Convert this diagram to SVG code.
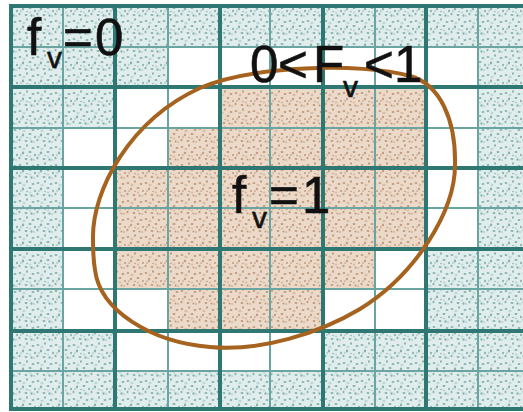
<svg xmlns="http://www.w3.org/2000/svg" width="523" height="412" viewBox="0 0 523 412">
<style>
.b{fill:url(#pb)}
.t{fill:url(#pt)}
.thick{stroke:#2f7773;stroke-width:4;fill:none}
.thin{stroke:#6aa5a1;stroke-width:2;fill:none}
.lbl{font-family:"Liberation Sans",Arial,sans-serif;fill:#111;stroke:#111;stroke-width:0.6}
.big{font-size:51px}
.sub{font-size:30px}
</style>
<defs>
<pattern id="pb" width="18" height="18" patternUnits="userSpaceOnUse">
<rect width="18" height="18" fill="#e1edec"/>
<g fill="#86b4b0">
<ellipse cx="2" cy="3" rx="1.4" ry="1"/>
<ellipse cx="9" cy="1.5" rx="1" ry="1.3"/>
<ellipse cx="15" cy="4" rx="1.5" ry="1"/>
<ellipse cx="5" cy="9" rx="1.2" ry="1.4"/>
<ellipse cx="12" cy="8" rx="1.6" ry="1"/>
<ellipse cx="17" cy="11" rx="1" ry="1.2"/>
<ellipse cx="1.5" cy="14" rx="1" ry="1.3"/>
<ellipse cx="8" cy="15" rx="1.5" ry="1.1"/>
<ellipse cx="13.5" cy="15.5" rx="1.1" ry="1.2"/>
<ellipse cx="9" cy="11.5" rx="0.8" ry="0.8"/>
</g>
<g fill="#bcd7d5">
<ellipse cx="6" cy="5" rx="1.6" ry="1.2"/>
<ellipse cx="16" cy="16" rx="1.4" ry="1.1"/>
<ellipse cx="3" cy="11" rx="1.2" ry="1.2"/>
<ellipse cx="12" cy="12.5" rx="1.3" ry="1"/>
</g>
</pattern>
<pattern id="pt" width="18" height="18" patternUnits="userSpaceOnUse">
<rect width="18" height="18" fill="#ebd9c9"/>
<g fill="#c39a7a">
<ellipse cx="2" cy="3" rx="1.3" ry="1"/>
<ellipse cx="9" cy="1.5" rx="1" ry="1.2"/>
<ellipse cx="15" cy="4" rx="1.4" ry="1"/>
<ellipse cx="5" cy="9" rx="1.1" ry="1.3"/>
<ellipse cx="12" cy="8" rx="1.5" ry="1"/>
<ellipse cx="17" cy="11" rx="1" ry="1.1"/>
<ellipse cx="1.5" cy="14" rx="1" ry="1.2"/>
<ellipse cx="8" cy="15" rx="1.4" ry="1"/>
<ellipse cx="13.5" cy="15.5" rx="1" ry="1.1"/>
<ellipse cx="9" cy="11.5" rx="0.8" ry="0.8"/>
</g>
<g fill="#d9bca4">
<ellipse cx="6" cy="5" rx="1.6" ry="1.2"/>
<ellipse cx="16" cy="16" rx="1.4" ry="1.1"/>
<ellipse cx="3" cy="11" rx="1.2" ry="1.2"/>
<ellipse cx="12" cy="12.5" rx="1.3" ry="1"/>
</g>
</pattern>
</defs>
<rect width="523" height="412" fill="#ffffff"/>
<g id="cells-outside">
<rect class="b" x="11" y="6" width="512" height="41"/>
<rect class="b" x="11" y="371" width="512" height="38"/>
<rect class="b" x="11" y="6" width="52" height="403"/>
<rect class="b" x="478" y="6" width="45" height="403"/>
<rect class="b" x="63" y="47" width="105" height="40"/>
<rect class="b" x="63" y="87" width="52" height="41"/>
<rect class="b" x="426" y="249" width="52" height="82"/>
<rect class="b" x="63" y="331" width="52" height="40"/>
<rect class="b" x="323" y="331" width="155" height="40"/>
</g>
<g id="cells-inside">
<rect class="t" x="220" y="87" width="206" height="41"/>
<rect class="t" x="168" y="128" width="258" height="40"/>
<rect class="t" x="115" y="168" width="311" height="81"/>
<rect class="t" x="115" y="249" width="260" height="40"/>
<rect class="t" x="168" y="289" width="155" height="42"/>
</g>
<g id="grid">
<path class="thin" d="M63 6V409M168 6V409M270 6V409M375 6V409M478 6V409M11 47H523M11 128H523M11 208H523M11 289H523M11 371H523"/>
<path class="thick" d="M11 4V411M115 6V409M220 6V409M323 6V409M426 6V409M9 6H523M11 87H523M11 168H523M11 249H523M11 331H523M9 409H523"/>
</g>
<g id="interface">
<path d="M93 239C92 190 130 120 200 88C250 66 360 62 410 76C440 84 456 120 455 165C455 212 415 275 360 309C320 333 260 352 210 347C150 342 100 310 95 270C93 258 93 250 93 239Z" fill="none" stroke="#a5631f" stroke-width="4"/>
</g>
<g id="labels">
<text class="lbl big" y="55"><tspan x="27">f</tspan><tspan class="sub" x="47" y="68">v</tspan><tspan x="63" y="55">=</tspan><tspan x="95">0</tspan></text>
<text class="lbl big" y="82" font-size="48"><tspan x="250">0</tspan><tspan x="278">&lt;</tspan><tspan x="313">F</tspan><tspan class="sub" x="343" y="97">v</tspan><tspan x="364" y="82">&lt;</tspan><tspan x="394">1</tspan></text>
<text class="lbl big" y="213"><tspan x="232">f</tspan><tspan class="sub" x="252" y="228">v</tspan><tspan x="269" y="213">=</tspan><tspan x="302">1</tspan></text>
</g>
</svg>
